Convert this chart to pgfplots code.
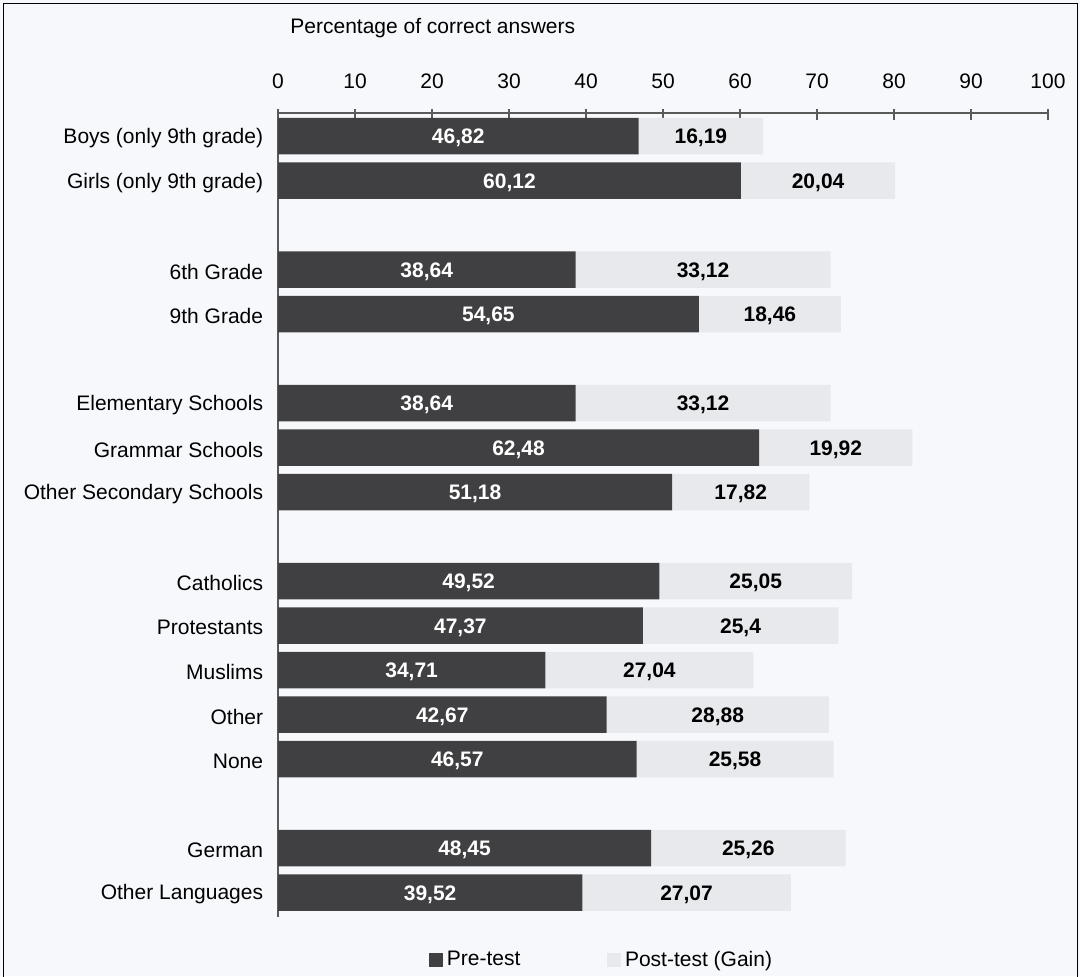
\documentclass[border=0pt]{standalone}
\usepackage{fontspec}
\setmainfont{Liberation Sans}
\usepackage{pgfplots}
\pgfplotsset{compat=1.18}
\definecolor{pre}{HTML}{404042}
\definecolor{post}{HTML}{E8E9ED}
\definecolor{bg}{HTML}{F7F8FC}
\definecolor{axisgray}{HTML}{5A5A5A}

\begin{document}
\fontsize{10.5}{12.6}\selectfont
\begin{tikzpicture}[x=0.5pt,y=-0.5pt,font=\fontsize{10.5}{12.6}\selectfont]
\useasboundingbox (0,0) rectangle (1080,976);
\fill[bg] (0,0) rectangle (1080,976);
\begin{axis}[
    at={(139pt,-56.5pt)}, anchor=north west,
    scale only axis,
    width=385pt, height=402pt,
    xbar stacked,
    bar width=0.82,
    xmin=0, xmax=100,
    ymin=-17.55, ymax=0.52,
    axis x line*=top,
    axis y line*=left,
    axis line style={draw=axisgray, line width=0.6pt, -},
    xtick={0,10,...,100},
    xticklabel pos=top,
    tick align=center,
    major tick length=5.5pt,
    xtick style={draw=axisgray, line width=0.6pt, yshift=-0.75pt},
    xticklabel style={inner sep=0pt, yshift=9pt},
    ytick={0,-1,-3,-4,-6,-7,-8,-10,-11,-12,-13,-14,-16,-17},
    yticklabels={Boys (only 9th grade),Girls (only 9th grade),6th Grade,9th Grade,Elementary Schools,Grammar Schools,Other Secondary Schools,Catholics,Protestants,Muslims,Other,None,German,Other Languages},
    ytick style={draw=none},
    yticklabel style={inner sep=0pt, xshift=-4.5pt, yshift=-1pt},
    /pgf/number format/assume math mode=true,
    /pgf/number format/use comma,
    /pgf/number format/precision=2,
    nodes near coords,
    every node near coord/.append style={anchor=center, yshift=-1pt, font=\fontsize{10.5}{12.6}\selectfont\bfseries},
    legend columns=2,
    legend image code/.code={\fill[#1] (0pt,-3.4pt) rectangle (6.8pt,3.4pt);},
    legend style={draw=none, fill=none, inner sep=0pt, at={(axis cs:19.6,-18.52)}, anchor=west,
        /tikz/every even column/.append style={column sep=41.5pt}},
]
\addplot+[fill=pre, draw=none, every node near coord/.append style={text=white}] coordinates {
    (46.82,0) (60.12,-1) (38.64,-3) (54.65,-4) (38.64,-6) (62.48,-7) (51.18,-8)
    (49.52,-10) (47.37,-11) (34.71,-12) (42.67,-13) (46.57,-14) (48.45,-16) (39.52,-17)
};
\addlegendentry{Pre-test}
\addplot+[fill=post, draw=none, every node near coord/.append style={text=black}] coordinates {
    (16.19,0) (20.04,-1) (33.12,-3) (18.46,-4) (33.12,-6) (19.92,-7) (17.82,-8)
    (25.05,-10) (25.4,-11) (27.04,-12) (28.88,-13) (25.58,-14) (25.26,-16) (27.07,-17)
};
\addlegendentry{Post-test (Gain)}
\end{axis}
\node[anchor=west, inner sep=0pt] at (290,28) {Percentage of correct answers};
\draw[line width=0.75pt] (3.5,3.5) rectangle (1077.5,1000);
\end{tikzpicture}
\end{document}
